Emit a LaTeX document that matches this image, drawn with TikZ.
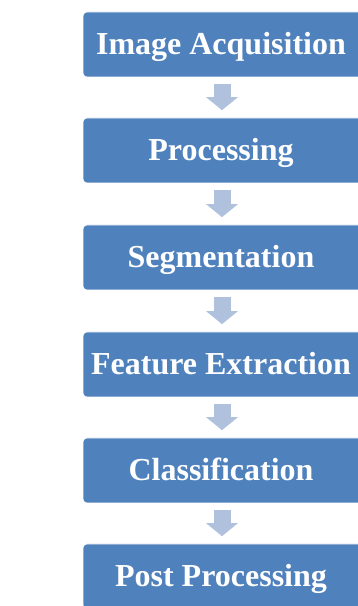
\documentclass[tikz,border=0pt]{standalone}
\usepackage{fontspec}
\setmainfont{Liberation Serif}
\usetikzlibrary{arrows.meta}
\definecolor{boxblue}{RGB}{79,129,189}
\definecolor{arrowblue}{RGB}{176,193,222}
\tikzset{
  stepbox/.style={rectangle, rounded corners=4pt, fill=boxblue, draw=white, line width=0.6pt,
    minimum width=280pt, minimum height=65pt, text=white, inner sep=0pt,
    font=\fontsize{32}{38}\selectfont\bfseries, text height=22pt, text depth=2pt},
  flowarrow/.style={draw=arrowblue, line width=17pt,
    -{Triangle[width=31pt,length=13pt]}}
}
\begin{document}
\begin{tikzpicture}[x=1pt,y=1pt]
\useasboundingbox (0,0) rectangle (357,606);
\fill[white] (0,0) rectangle (357,606);
\node[stepbox] (b1) at (223,561.5) {\hspace*{-4pt}Image Acquisition};
\node[stepbox] (b2) at (223,455.5) {\hspace*{-4pt}Processing};
\node[stepbox] (b3) at (223,348.5) {\hspace*{-4pt}Segmentation};
\node[stepbox] (b4) at (223,241.5) {\hspace*{-4pt}Feature Extraction};
\node[stepbox] (b5) at (223,135.5) {\hspace*{-4pt}Classification};
\node[stepbox] (b6) at (223,29.5) {\hspace*{-4pt}Post Processing};
\foreach \a/\b in {b1/b2,b2/b3,b3/b4,b4/b5,b5/b6}
  \draw[flowarrow] ([xshift=-1pt,yshift=-7pt]\a.south) -- ([xshift=-1pt,yshift=7.5pt]\b.north);
\end{tikzpicture}
\end{document}
